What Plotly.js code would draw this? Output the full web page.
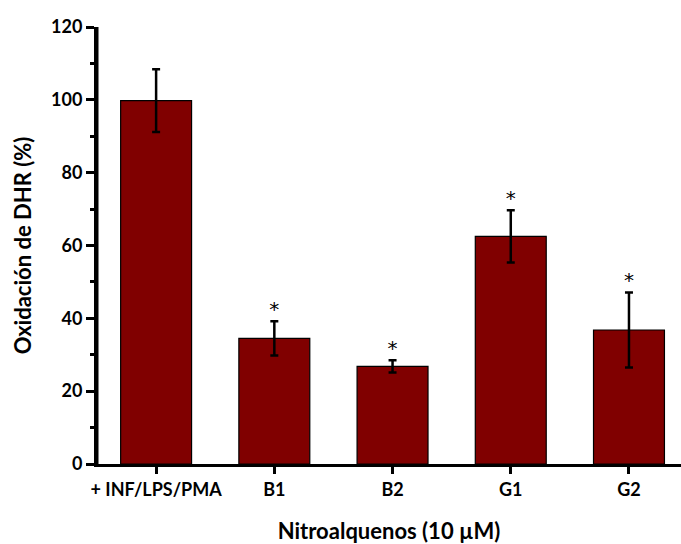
<!DOCTYPE html>
<html>
<head>
<meta charset="utf-8">
<script src="https://cdn.plot.ly/plotly-3.0.1.min.js"></script>
<style>html,body{margin:0;padding:0;background:#fff;}#chart{width:681px;height:544px;}</style>
</head>
<body>
<div id="chart"></div>
<script>
const categories = ["+ INF/LPS/PMA", "B1", "B2", "G1", "G2"];
const values = [99.8, 34.5, 26.8, 62.5, 36.8];
const errors = [8.6, 4.7, 1.7, 7.2, 10.3];
const significance = ["", "*", "*", "*", "*"];
const yTicks = [0, 20, 40, 60, 80, 100, 120];

const FONT = "Lato, 'Open Sans', sans-serif";

const bars = {
  type: "bar",
  x: categories,
  y: values,
  width: 0.6,
  marker: {color: "#800000", line: {color: "#000000", width: 1.2}},
  error_y: {type: "data", array: errors, visible: true, color: "#000000", thickness: 2.5, width: 4},
  hoverinfo: "skip"
};

const stars = {
  type: "scatter",
  mode: "text",
  x: categories,
  y: values.map((v, i) => v + errors[i]),
  text: significance,
  textposition: "top center",
  textfont: {family: "'DejaVu Sans', sans-serif", size: 20, color: "#000000"},
  hoverinfo: "skip",
  cliponaxis: false
};

const layout = {
  width: 681,
  height: 544,
  margin: {l: 97, r: 0, t: 27, b: 80},
  paper_bgcolor: "#ffffff",
  plot_bgcolor: "#ffffff",
  showlegend: false,
  font: {family: FONT, color: "#000000"},
  xaxis: {
    type: "category",
    range: [-0.5, 4.44],
    showline: true, linecolor: "#000000", linewidth: 3,
    ticks: "outside", ticklen: 7, tickwidth: 3, tickcolor: "#000000",
    tickfont: {family: FONT, size: 18, weight: "bold", color: "#000000"},
    showgrid: false, zeroline: false,
    title: {text: "Nitroalquenos (10 µM)", font: {family: FONT, size: 22, weight: "bold", color: "#000000"}, standoff: 28},
    automargin: false
  },
  yaxis: {
    range: [0, 120],
    tickvals: yTicks,
    ticktext: yTicks.map(String),
    showline: true, linecolor: "#000000", linewidth: 3,
    ticks: "outside", ticklen: 8, tickwidth: 3, tickcolor: "#000000",
    minor: {dtick: 10, tick0: 0, ticks: "outside", ticklen: 4, tickwidth: 3, tickcolor: "#000000"},
    tickfont: {family: FONT, size: 18, weight: "bold", color: "#000000"},
    showgrid: false, zeroline: false,
    title: {text: "Oxidación de DHR (%)", font: {family: FONT, size: 22, weight: "bold", color: "#000000"}, standoff: 14},
    automargin: false
  },
  shapes: [
    {type: "line", xref: "paper", yref: "paper", x0: 0, x1: 0, y0: 0, y1: 1, layer: "above",
     line: {color: "#000000", width: 3}}
  ]
};

Plotly.newPlot("chart", [bars, stars], layout, {displayModeBar: false, staticPlot: true});
</script>
</body>
</html>
